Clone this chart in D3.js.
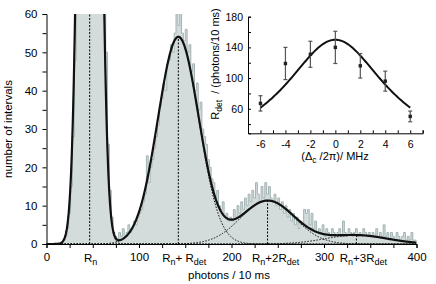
<!DOCTYPE html>
<meta charset="utf-8">
<script src="https://d3js.org/d3.v7.min.js"></script>
<style>
  body { margin: 0; background: #fff; }
  text { font-family: "Liberation Sans", Arial, sans-serif; fill: #000; }
</style>
<svg id="chart" width="436" height="284"></svg>
<script>

// histogram of photon counts, 2-photon bins starting at 0
var binWidth = 2;
var counts = [
  0, 0, 0, 0, 0, 0, 0, 0, 0, 1,
  2, 4, 8, 15, 28, 48, 75, 110, 160, 210,
  270, 320, 360, 385, 390, 370, 335, 290, 240, 185,
  104, 68, 50, 26, 14, 7, 3, 2, 1, 3,
  2, 4, 2, 3, 5, 3, 4, 6, 5, 7,
  8, 9, 11, 13, 23, 16, 20, 22, 25, 28,
  31, 36, 38, 42, 40, 47, 48, 52, 50, 55,
  60, 57, 62, 55, 53, 56, 50, 52, 45, 47,
  40, 42, 35, 37, 30, 28, 26, 22, 20, 17,
  16, 12, 14, 10, 9, 11, 7, 8, 6, 7,
  6, 9, 7, 10, 8, 11, 9, 12, 10, 13,
  11, 14, 12, 16, 13, 11, 15, 12, 16, 13,
  15, 12, 11, 13, 10, 12, 9, 11, 8, 10,
  7, 9, 6, 8, 5, 7, 4, 6, 5, 9,
  8, 9, 5, 8, 4, 6, 3, 4, 3, 5,
  2, 4, 3, 2, 4, 3, 2, 3, 4, 2,
  6, 3, 2, 4, 3, 2, 3, 4, 2, 3,
  2, 4, 3, 2, 3, 2, 3, 2, 4, 2,
  3, 2, 5, 2, 3, 1, 3, 2, 1, 3,
  2, 1, 2, 3, 1, 2, 1, 3, 1, 1
];

// fitted peaks (Rn, Rn+Rdet, Rn+2Rdet, Rn+3Rdet)
var peakCenters = [46.7, 142.5, 239, 335];
var peakHeights = [394, 54, 11.3, 2.3];
var peakWidths = [8.15, 22, 29, 33.5];
var peakLabels = [
  [["R", 0], ["n", 1]],
  [["R", 0], ["n", 1], ["+ R", 0], ["det", 1]],
  [["R", 0], ["n", 1], ["+2R", 0], ["det", 1]],
  [["R", 0], ["n", 1], ["+3R", 0], ["det", 1]]
];

// inset: Rdet vs cavity detuning
var detuning = [-6, -4, -2, 0, 2, 4, 6];
var rdet = [67, 119, 131, 140, 116, 96, 50];
var rdetErr = [10, 21, 17, 21, 16, 13, 7];
var fitPeak = 150, fitHalfWidth = 5;

var svg = d3.select("#chart");

// main plot scales
var x = d3.scaleLinear().domain([0, 400]).range([46.5, 416.5]);
var y = d3.scaleLinear().domain([0, 60]).range([244, 14]);

svg.append("clipPath").attr("id", "clip")
  .append("rect").attr("x", 46.5).attr("y", 14).attr("width", 370).attr("height", 230);

var plot = svg.append("g").attr("clip-path", "url(#clip)");

var hist = counts.map(function(c, i){ return {x: i * binWidth, y: c} });
hist.push({x: counts.length * binWidth, y: 0});

plot.append("path")
  .datum(hist)
  .attr("fill", "#d3dbdb")
  .attr("d", d3.area().curve(d3.curveStepAfter)
      .x(function(d){ return x(d.x) })
      .y0(y(0))
      .y1(function(d){ return y(d.y) }));

plot.append("path")
  .datum(hist)
  .attr("fill", "none")
  .attr("stroke", "#a3b3b3")
  .attr("stroke-width", 1)
  .attr("d", d3.line().curve(d3.curveStepAfter)
      .x(function(d){ return x(d.x) })
      .y(function(d){ return y(d.y) }));

// fit curves
function gauss(k, v) {
  var d = v - peakCenters[k];
  return peakHeights[k] * Math.exp(-d * d / (2 * peakWidths[k] * peakWidths[k]));
}
var xs = d3.range(0, 400.5, 0.5);

peakCenters.forEach(function(c, k){
  plot.append("path")
    .datum(xs)
    .attr("fill", "none")
    .attr("stroke", "#000")
    .attr("stroke-width", 1)
    .attr("stroke-dasharray", "1.5,1.5")
    .attr("d", d3.line()
        .x(function(v){ return x(v) })
        .y(function(v){ return y(gauss(k, v)) }));

  plot.append("line")
    .attr("x1", x(c)).attr("x2", x(c))
    .attr("y1", y(0)).attr("y2", y(Math.min(peakHeights[k], 60)))
    .attr("stroke", "#000")
    .attr("stroke-width", 1)
    .attr("stroke-dasharray", "2,1.5");
});

plot.append("path")
  .datum(xs)
  .attr("fill", "none")
  .attr("stroke", "#111")
  .attr("stroke-width", 2.2)
  .attr("d", d3.line()
      .x(function(v){ return x(v) })
      .y(function(v){ return y(d3.sum(peakCenters, function(c, k){ return gauss(k, v) })) }));

// main axes
var xAxis = svg.append("g")
  .attr("transform", "translate(0," + y(0) + ")")
  .call(d3.axisBottom(x)
    .tickValues(d3.range(0, 401, 25))
    .tickSize(4).tickPadding(5)
    .tickFormat(function(d){ return d % 100 == 0 ? d : "" }))
  .style("font-size", "11.5px");

var yAxis = svg.append("g")
  .attr("transform", "translate(" + x(0) + ",0)")
  .call(d3.axisLeft(y)
    .tickValues(d3.range(0, 61, 5))
    .tickSize(4).tickPadding(5)
    .tickFormat(function(d){ return d % 10 == 0 ? d : "" }))
  .style("font-size", "11.5px");

[xAxis, yAxis].forEach(function(a){
  a.select(".domain").attr("stroke", "#000");
  a.selectAll("text").style("font-family", "Liberation Sans, Arial, sans-serif");
});

function writeParts(t, parts, subSize) {
  parts.forEach(function(p){
    var ts = t.append("tspan").text(p[0]);
    if (p[1]) ts.attr("dy", 3).style("font-size", subSize);
    else if (ts.node().previousSibling) ts.attr("dy", -3);
  });
}

var labelShift = [1, 6, 8, 7];
peakCenters.forEach(function(c, k){
  var t = svg.append("text")
    .attr("x", x(c) + labelShift[k])
    .attr("y", 261.5)
    .attr("text-anchor", "middle")
    .style("font-size", "11.5px");
  writeParts(t, peakLabels[k], "9px");
});

svg.append("text")
  .attr("x", 229).attr("y", 279)
  .attr("text-anchor", "middle")
  .style("font-size", "11.5px")
  .text("photons / 10 ms");

svg.append("text")
  .attr("transform", "translate(12,129) rotate(-90)")
  .attr("text-anchor", "middle")
  .style("font-size", "11.5px")
  .text("number of intervals");

// inset
var ix = d3.scaleLinear().domain([-7, 7]).range([248, 422.7]);
var iy = d3.scaleLinear().domain([28, 180]).range([133.3, 16.7]);

var ixAxis = svg.append("g")
  .attr("transform", "translate(0," + iy(28) + ")")
  .call(d3.axisBottom(ix)
    .tickValues(d3.range(-7, 8, 1))
    .tickSize(-3).tickPadding(7)
    .tickFormat(function(d){ return (d % 2 == 0) ? d : "" }))
  .style("font-size", "10.5px");

var iyAxis = svg.append("g")
  .attr("transform", "translate(" + ix(-7) + ",0)")
  .call(d3.axisLeft(iy)
    .tickValues(d3.range(40, 181, 20))
    .tickSize(-3).tickPadding(5)
    .tickFormat(function(d){ return (d % 40 == 20) ? d : "" }))
  .style("font-size", "10.5px");

[ixAxis, iyAxis].forEach(function(a){
  a.select(".domain").attr("stroke", "#000");
  a.selectAll("text").style("font-family", "Liberation Sans, Arial, sans-serif");
});
ixAxis.selectAll("text").text(function(d){ return d % 2 == 0 ? (d < 0 ? "-" + (-d) : d) : "" });

var dets = d3.range(-6, 6.01, 0.1);
svg.append("path")
  .datum(dets)
  .attr("fill", "none")
  .attr("stroke", "#111")
  .attr("stroke-width", 2)
  .attr("d", d3.line()
      .x(function(v){ return ix(v) })
      .y(function(v){ return iy(fitPeak / (1 + (v / fitHalfWidth) * (v / fitHalfWidth))) }));

var pts = svg.append("g").selectAll("g")
  .data(detuning)
  .enter().append("g");

pts.append("line")
  .attr("x1", function(d){ return ix(d) })
  .attr("x2", function(d){ return ix(d) })
  .attr("y1", function(d, i){ return iy(rdet[i] - rdetErr[i]) })
  .attr("y2", function(d, i){ return iy(rdet[i] + rdetErr[i]) })
  .attr("stroke", "#555").attr("stroke-width", 1.2);

[-1, 1].forEach(function(s){
  pts.append("line")
    .attr("x1", function(d){ return ix(d) - 2 })
    .attr("x2", function(d){ return ix(d) + 2 })
    .attr("y1", function(d, i){ return iy(rdet[i] + s * rdetErr[i]) })
    .attr("y2", function(d, i){ return iy(rdet[i] + s * rdetErr[i]) })
    .attr("stroke", "#555").attr("stroke-width", 1.2);
});

pts.append("rect")
  .attr("x", function(d){ return ix(d) - 1.7 })
  .attr("y", function(d, i){ return iy(rdet[i]) - 1.7 })
  .attr("width", 3.4).attr("height", 3.4)
  .attr("fill", "#222");

var il = svg.append("text")
  .attr("transform", "translate(219,64) rotate(-90)")
  .attr("text-anchor", "middle")
  .style("font-size", "11px");
writeParts(il, [["R", 0], ["det", 1], ["  / (photons/10 ms)", 0]], "8.5px");
il.style("white-space", "pre");

var xl = svg.append("text")
  .attr("x", 335).attr("y", 160)
  .attr("text-anchor", "middle")
  .style("font-size", "11px");
writeParts(xl, [["(\u0394", 0], ["c", 1], [" /2\u03c0)/ MHz", 0]], "8.5px");

</script>
